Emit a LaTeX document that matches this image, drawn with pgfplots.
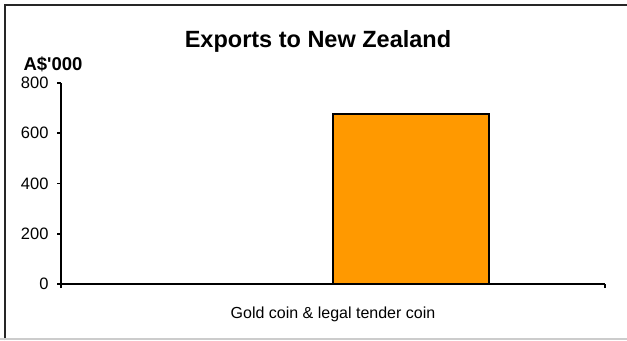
\documentclass[border=0pt]{standalone}
\usepackage{pgfplots}
\pgfplotsset{compat=1.18}
\usepackage{fontspec}
\setmainfont{Liberation Sans}
\definecolor{barorange}{RGB}{255,153,0}
\begin{document}
\begin{tikzpicture}[x=1bp,y=1bp]
\useasboundingbox (0,0) rectangle (627,-340);
% outer frame
\draw[line width=2bp,black!85] (5,-340) -- (5,-5) -- (627,-5);
\draw[line width=1.2bp,black!20] (0,-339) -- (627,-339);
\begin{axis}[
  at={(61bp,-284bp)}, anchor=origin,
  scale only axis, width=544bp, height=201bp,
  xmin=0, xmax=1, ymin=0, ymax=800,
  axis x line*=bottom, axis y line*=left,
  axis line style={line width=1.8bp,black},
  every tick/.style={line width=1.8bp,black},
  tick align=outside,
  major tick length=4bp,
  xtick={0,1}, xticklabels={},
  ytick={0,200,400,600,800},
  /pgf/number format/assume math mode=true,
  ticklabel style={font=\fontsize{16.5bp}{19bp}\selectfont},
  yticklabel style={xshift=-5bp},
  clip=false,
]
\addplot[ybar, bar width=0.287, fill=barorange, draw=black, line width=1.8bp] coordinates {(0.6435,677)};
\node[font=\fontsize{16bp}{19bp}\selectfont] at (axis cs:0.5,0) [yshift=-30bp] {Gold coin \& legal tender coin};
\end{axis}
\node[font=\fontsize{23.5bp}{27bp}\selectfont\bfseries] at (318,-41) {Exports to New Zealand};
\node[font=\fontsize{18.5bp}{21bp}\selectfont\bfseries] at (53,-64.5) {A\$\textquotesingle000};
\end{tikzpicture}
\end{document}
